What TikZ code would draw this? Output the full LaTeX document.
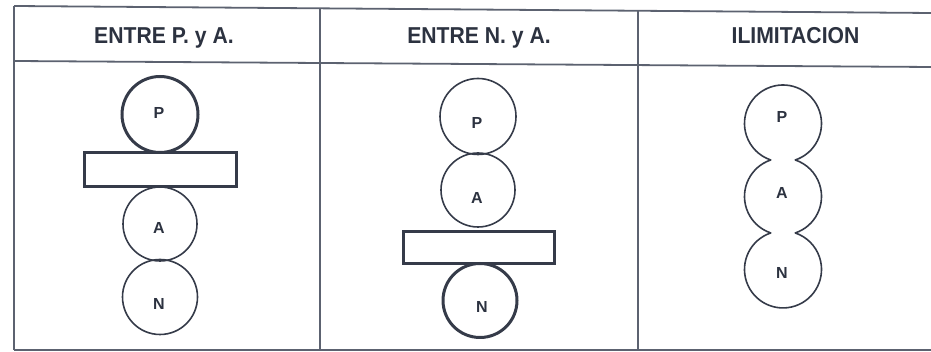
\documentclass[tikz,border=0pt]{standalone}
\usepackage{fontspec}
\setmainfont{Liberation Sans}
\usetikzlibrary{calc}
\definecolor{ink}{HTML}{353B49}
\definecolor{type}{HTML}{2C3240}
\definecolor{rule}{HTML}{5C6270}
\newcommand{\narrow}[1]{\scalebox{0.92}[1]{#1}}
\begin{document}
\begin{tikzpicture}[x=1pt,y=1pt,
  grid/.style={draw=rule,line width=1.8pt},
  head/.style={font=\fontsize{23}{26}\selectfont\bfseries,text=type,anchor=base,inner sep=0},
  ring/.style={circle,draw=ink,line width=1.6pt,inner sep=0,minimum size=#1},
  heavy/.style={line width=3pt},
  bar/.style={rectangle,draw=ink,line width=3pt,inner sep=0},
  tag/.style={font=\fontsize{16}{18}\selectfont\bfseries,text=type,inner sep=0},
  blob/.style={draw=ink,line width=1.6pt,line join=round}
]
\useasboundingbox (0,0) rectangle (931,352);

% table frame
\coordinate (tl) at (14,346);  \coordinate (tr) at (931,339);
\coordinate (hl) at (14,291);  \coordinate (hr) at (931,285);
\coordinate (bl) at (14,2);    \coordinate (br) at (931,2);
\coordinate (d1t) at (320,343); \coordinate (d1b) at (320,1);
\coordinate (d2t) at (638,341); \coordinate (d2b) at (638,1);
\draw[grid] (tl) -- (tr);
\draw[grid] (hl) -- (hr);
\draw[grid] (bl) -- (br);
\draw[grid] (tl) -- (bl);
\draw[grid] (d1t) -- (d1b);
\draw[grid] (d2t) -- (d2b);

% column headings
\node[head] (h1) at (164,308.5) {\narrow{ENTRE P. y A.}};
\node[head] (h2) at (479,308.5) {\narrow{ENTRE N. y A.}};
\node[head] (h3) at (795.5,308.5) {\narrow{ILIMITACION}};

% first column
\node[ring=76pt,heavy] (p1) at (160,237.5) {};
\node[bar,minimum width=152pt,minimum height=34pt] (b1) at (160,182) {};
\node[ring=74pt] (a1) at (160,128) {};
\node[ring=75pt] (n1) at (160,55) {};
\node[tag] (lp1) at (159,239) {P};
\node[tag] (la1) at (159,124) {A};
\node[tag] (ln1) at (159,48) {N};

% second column
\node[ring=76pt] (p2) at (478,235.5) {};
\node[ring=74pt] (a2) at (478,162) {};
\node[bar,minimum width=151pt,minimum height=32pt] (b2) at (478.5,104) {};
\node[ring=74pt,heavy] (n2) at (480,51.5) {};
\node[tag] (lp2) at (477,229) {P};
\node[tag] (la2) at (477,154) {A};
\node[tag] (ln2) at (482,45) {N};

% third column: three merged circles
\coordinate (cp) at (783,228.5);
\coordinate (ca) at (783,155.5);
\coordinate (cn) at (783,82.5);
\draw[blob] ($(cp)+(-71.4:38.5)$)
  arc[start angle=-71.4,end angle=251.4,radius=38.5]
  arc[start angle=108.6,end angle=251.4,radius=38.5]
  arc[start angle=108.6,end angle=431.4,radius=38.5]
  arc[start angle=-71.4,end angle=71.4,radius=38.5] -- cycle;
\node[tag] (lp3) at (782,235) {P};
\node[tag] (la3) at (782,159) {A};
\node[tag] (ln3) at (782,79) {N};
\end{tikzpicture}
\end{document}
